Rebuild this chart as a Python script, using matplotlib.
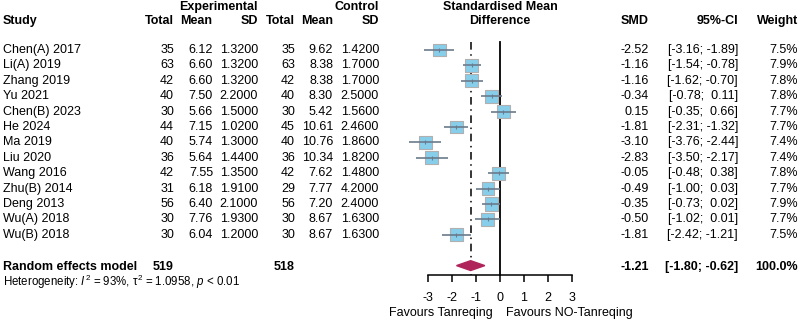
import numpy as np
import matplotlib.pyplot as plt
from matplotlib.transforms import blended_transform_factory

plt.rcParams['font.family'] = 'Liberation Sans'
plt.rcParams['mathtext.fontset'] = 'custom'
plt.rcParams['mathtext.rm'] = 'Liberation Sans'
plt.rcParams['mathtext.it'] = 'Liberation Sans:italic'

studies = ["Chen(A) 2017", "Li(A) 2019", "Zhang 2019", "Yu 2021", "Chen(B) 2023",
           "He 2024", "Ma 2019", "Liu 2020", "Wang 2016", "Zhu(B) 2014",
           "Deng 2013", "Wu(A) 2018", "Wu(B) 2018"]
n_e = [35, 63, 42, 40, 30, 44, 40, 36, 42, 31, 56, 30, 30]
mean_e = [6.12, 6.60, 6.60, 7.50, 5.66, 7.15, 5.74, 5.64, 7.55, 6.18, 6.40, 7.76, 6.04]
sd_e = [1.32, 1.32, 1.32, 2.20, 1.50, 1.02, 1.30, 1.44, 1.35, 1.91, 2.10, 1.93, 1.20]
n_c = [35, 63, 42, 40, 30, 45, 40, 36, 42, 29, 56, 30, 30]
mean_c = [9.62, 8.38, 8.38, 8.30, 5.42, 10.61, 10.76, 10.34, 7.62, 7.77, 7.20, 8.67, 8.67]
sd_c = [1.42, 1.70, 1.70, 2.50, 1.56, 2.46, 1.86, 1.82, 1.48, 4.20, 2.40, 1.63, 1.63]
smd = [-2.52, -1.16, -1.16, -0.34, 0.15, -1.81, -3.10, -2.83, -0.05, -0.49, -0.35, -0.50, -1.81]
lower = [-3.16, -1.54, -1.62, -0.78, -0.35, -2.31, -3.76, -3.50, -0.48, -1.00, -0.73, -1.02, -2.42]
upper = [-1.89, -0.78, -0.70, 0.11, 0.66, -1.32, -2.44, -2.17, 0.38, 0.03, 0.02, 0.01, -1.21]
weight = [7.5, 7.9, 7.8, 7.8, 7.7, 7.7, 7.4, 7.4, 7.8, 7.7, 7.9, 7.7, 7.5]

pooled_smd, pooled_lo, pooled_hi = -1.21, -1.80, -0.62
total_e, total_c = 519, 518
x_ticks = [-3, -2, -1, 0, 1, 2, 3]

W, H = 800, 322
row0, step = 50, 15.4  # pixel y of first study row, row spacing

fig = plt.figure(figsize=(W / 100, H / 100), dpi=100)
x0, x1 = 427.7, 571.7
ax = fig.add_axes([x0 / W, 0, (x1 - x0) / W, 1])
ax.set_xlim(-3, 3)
ax.set_ylim((H - row0) / step, -row0 / step)
ax.patch.set_alpha(0)
for s in ["top", "right", "left"]:
    ax.spines[s].set_visible(False)
axis_row = (275 - row0) / step
ax.spines["bottom"].set_position(("data", axis_row))
ax.spines["bottom"].set_bounds(-3, 3)
ax.spines["bottom"].set_linewidth(1.1)
ax.set_yticks([])
ax.set_xticks(x_ticks)
ax.set_xticklabels([str(t) for t in x_ticks])
ax.tick_params(axis="x", direction="out", length=5, width=1.1, pad=7, labelsize=9)

rows = np.arange(len(studies))
n = len(studies)
pool_row = n + 1

# reference lines
top = -0.5
ax.plot([0, 0], [top, axis_row], color="black", lw=1.3)
ax.plot([pooled_smd, pooled_smd], [top, axis_row], color="black", lw=1.1,
        linestyle=(0, (5, 3, 1, 3)))

# study boxes and CIs
sizes = 88 * np.array(weight) / 7.9
ax.scatter(smd, rows, s=sizes, marker="s", color="#87CEEB", edgecolor="#B0B0B0",
           linewidth=0.8, zorder=3, clip_on=False)
ax.hlines(rows, lower, upper, color="#6B7B8C", lw=1.2, zorder=4, clip_on=False)
ax.scatter(smd, rows, s=12, marker="|", color="#6B7B8C", linewidth=0.8, zorder=5,
           clip_on=False)

# pooled diamond
ax.fill([pooled_lo, pooled_smd, pooled_hi, pooled_smd],
        [pool_row, pool_row - 0.32, pool_row, pool_row + 0.32],
        color="#B0245C", zorder=3)

# text columns
tr = blended_transform_factory(fig.transFigure, ax.transData)
fs = 9


def put(x, r, s, ha="right", bold=False, size=fs):
    ax.text(x / W, r, s, ha=ha, va="center", transform=tr, fontsize=size,
            fontweight="bold" if bold else "normal", clip_on=False)


h1, h2 = -2.8, -1.88
put(3, h2, "Study", ha="left", bold=True)
put(258, h1, "Experimental", bold=True)
put(379, h1, "Control", bold=True)
for x, lab in [(174, "Total"), (212, "Mean"), (258, "SD"),
               (295, "Total"), (333, "Mean"), (379, "SD")]:
    put(x, h2, lab, bold=True)
put(500, h1, "Standardised Mean", ha="center", bold=True)
put(500, h2, "Difference", ha="center", bold=True)
put(649, h2, "SMD", bold=True)
put(738, h2, "95%-CI", bold=True)
put(798, h2, "Weight", bold=True)


def fmt(v):
    return f"{v:.2f}" if v < 0 else f" {v:.2f}"


for i in range(n):
    put(3, i, studies[i], ha="left")
    put(174, i, str(n_e[i]))
    put(213, i, f"{mean_e[i]:.2f}")
    put(258, i, f"{sd_e[i]:.4f}")
    put(295, i, str(n_c[i]))
    put(333, i, f"{mean_c[i]:.2f}")
    put(379, i, f"{sd_c[i]:.4f}")
    put(649, i, f"{smd[i]:.2f}")
    put(738, i, f"[{fmt(lower[i])}; {fmt(upper[i])}]")
    put(798, i, f"{weight[i]:.1f}%")

pr = pool_row + 0.1
put(3, pr, "Random effects model", ha="left", bold=True)
put(174, pr, str(total_e), bold=True)
put(295, pr, str(total_c), bold=True)
put(649, pr, f"{pooled_smd:.2f}", bold=True)
put(738, pr, f"[{fmt(pooled_lo)}; {fmt(pooled_hi)}]", bold=True)
put(798, pr, "100.0%", bold=True)
put(3, pool_row + 1.05,
    r"Heterogeneity: $I^2$ = 93%, $\mathrm{\tau}^2$ = 1.0958, $p$ < 0.01",
    ha="left", size=8.3)

fav_row = (313 - row0) / step
put(493, fav_row, "Favours Tanreqing")
put(506, fav_row, "Favours NO-Tanreqing", ha="left")

fig.savefig("out.png", dpi=100)
